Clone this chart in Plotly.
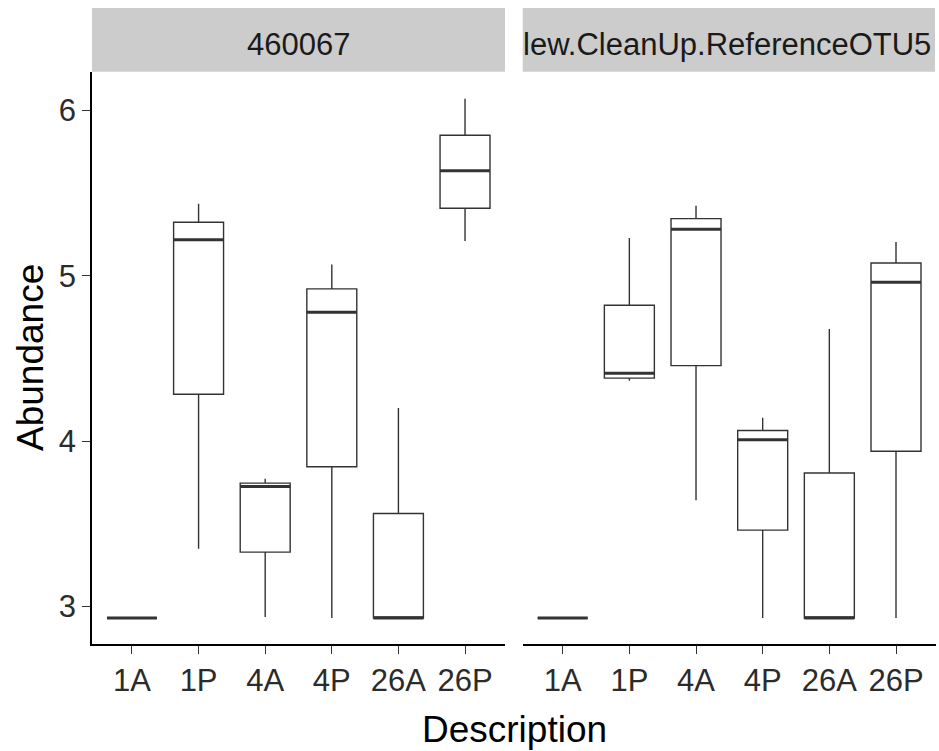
import plotly.graph_objects as go

categories = ["1A", "1P", "4A", "4P", "26A", "26P"]
panels = ["460067", "lew.CleanUp.ReferenceOTU5"]

# panel 1 (460067)
p1_low = [2.93, 3.349, 2.936, 2.93, 2.93, 5.211]
p1_q1 = [2.93, 4.284, 3.329, 3.845, 2.93, 5.409]
p1_med = [2.93, 5.219, 3.726, 4.780, 2.93, 5.636]
p1_q3 = [2.93, 5.324, 3.746, 4.921, 3.562, 5.850]
p1_high = [2.93, 5.436, 3.772, 5.068, 4.201, 6.071]

# panel 2 (New.CleanUp.ReferenceOTU5...)
p2_low = [2.93, 4.366, 3.643, 2.93, 2.93, 2.93]
p2_q1 = [2.93, 4.381, 4.457, 3.462, 2.93, 3.939]
p2_med = [2.93, 4.411, 5.282, 4.008, 2.93, 4.961]
p2_q3 = [2.93, 4.822, 5.346, 4.064, 3.807, 5.078]
p2_high = [2.93, 5.229, 5.424, 4.141, 4.679, 5.205]

y_ticks = [3, 4, 5, 6]

W, H = 939, 751
ML, MR, MT, MB = 92, 3, 72, 107
PW = W - ML - MR
PH = H - MT - MB

fig = go.Figure()

BOX_W = 0.75
LINE = "#333333"

data = [
    (p1_low, p1_q1, p1_med, p1_q3, p1_high, "x", "y"),
    (p2_low, p2_q1, p2_med, p2_q3, p2_high, "x2", "y"),
]
for low, q1, med, q3, high, xa, ya in data:
    xs = list(range(len(categories)))
    fig.add_trace(go.Box(
        x=xs, q1=q1, median=med, q3=q3, lowerfence=low, upperfence=high,
        width=BOX_W, whiskerwidth=0, fillcolor="white",
        line=dict(color=LINE, width=1.4), boxpoints=False,
        xaxis=xa, yaxis=ya, showlegend=False, hoverinfo="skip",
    ))
    for i, m in enumerate(med):
        fig.add_trace(go.Scatter(
            x=[i - BOX_W / 2, i + BOX_W / 2], y=[m, m], mode="lines",
            line=dict(color=LINE, width=3), xaxis=xa, yaxis=ya,
            showlegend=False, hoverinfo="skip",
        ))

d1 = (505 - ML) / PW
d2 = (522.7 - ML) / PW

tickfont = dict(family="Liberation Sans, Arial, sans-serif", size=31, color="#2b2b2b")
xcommon = dict(
    tickmode="array", tickvals=list(range(len(categories))), ticktext=categories,
    range=[-0.6, len(categories) - 0.4], showline=True, linecolor="black", linewidth=1.6,
    ticks="outside", ticklen=8, tickwidth=1.3, tickcolor="#333333",
    showgrid=False, zeroline=False, tickfont=tickfont, fixedrange=True,
)
fig.update_layout(
    xaxis=dict(domain=[0, d1], anchor="y", **xcommon),
    xaxis2=dict(domain=[d2, 1], anchor="y", **xcommon),
    yaxis=dict(
        domain=[0, 1], range=[2.773, 6.233], tickvals=y_ticks,
        showline=True, linecolor="black", linewidth=1.6,
        ticks="outside", ticklen=8, tickwidth=1.3, tickcolor="#333333",
        showgrid=False, zeroline=False, tickfont=tickfont,
    ),
    width=W, height=H,
    margin=dict(l=ML, r=MR, t=MT, b=MB),
    paper_bgcolor="white", plot_bgcolor="white",
    font=dict(family="Liberation Sans, Arial, sans-serif"),
)

strip_top = 1 + (MT - 8) / PH
strip_bot = 1 + 0.3 / PH
for (x0, x1) in [(0, d1), (d2, (935 - ML) / PW)]:
    fig.add_shape(type="rect", xref="paper", yref="paper", x0=x0, x1=x1,
                  y0=strip_bot, y1=strip_top, fillcolor="#CCCCCC", line=dict(width=0),
                  layer="below")

strip_font = dict(family="Liberation Sans, Arial, sans-serif", size=31, color="#1a1a1a")
strip_mid = 1 + (MT - 45) / PH
fig.add_annotation(text=panels[0], xref="paper", yref="paper", x=d1 / 2, y=strip_mid,
                   xanchor="center", yanchor="middle", showarrow=False, font=strip_font)
fig.add_annotation(text=panels[1], xref="paper", yref="paper", x=d2 - 1.5 / PW, y=strip_mid,
                   xanchor="left", yanchor="middle", showarrow=False, font=strip_font)

title_font = dict(family="Liberation Sans, Arial, sans-serif", size=37, color="black")
fig.add_annotation(text="Description", xref="paper", yref="paper", x=0.5,
                   y=-(729 - (H - MB)) / PH, xanchor="center", yanchor="middle",
                   showarrow=False, font=title_font)
fig.add_annotation(text="Abundance", xref="paper", yref="paper", x=(30 - ML) / PW,
                   y=0.5, xanchor="center", yanchor="middle", textangle=-90,
                   showarrow=False, font=title_font)

fig.write_html("out.html")
